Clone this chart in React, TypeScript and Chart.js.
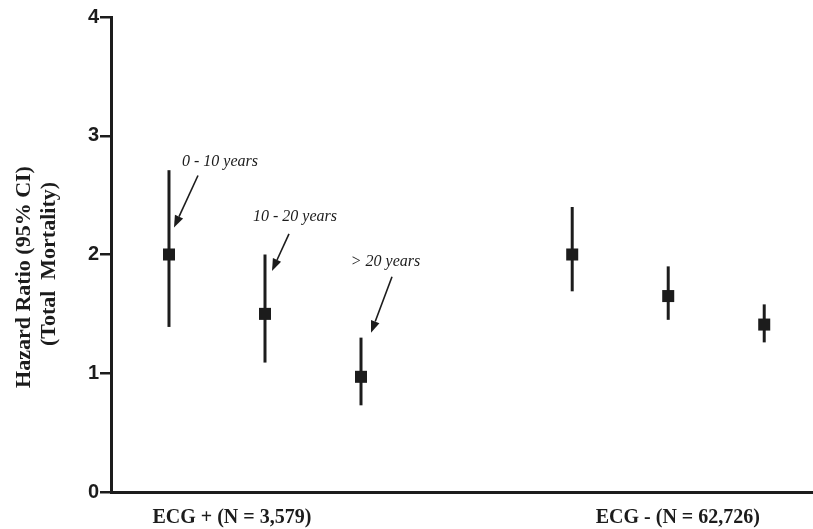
import React, { useEffect, useRef } from "react";
import { Chart, registerables } from "chart.js";

Chart.register(...registerables);

// ---- data ----
const groupLabels = ["ECG + (N = 3,579)", "ECG - (N = 62,726)"];
const xPositions = [1, 2, 3, 5.2, 6.2, 7.2];
const hazardRatio = [2.0, 1.5, 0.97, 2.0, 1.65, 1.41];
const ciLower = [1.39, 1.09, 0.73, 1.69, 1.45, 1.26];
const ciUpper = [2.71, 2.0, 1.3, 2.4, 1.9, 1.58];
const yTicks = [0, 1, 2, 3, 4];
const annotationLabels = ["0 - 10 years", "10 - 20 years", "> 20 years"];
const yTitleLines = ["Hazard Ratio (95% CI)", "(Total  Mortality)"];

// ---- style ----
const INK = "#1c1c1c";
const groupTickPositions = [1.655, 6.3];
const annotationOffsets = [
  { text: [51, -93], tail: [29, -79], tip: [5, -27] },
  { text: [30, -97], tail: [24, -80], tip: [7, -43] },
  { text: [24.5, -115], tail: [31, -100], tip: [10, -44] },
];

const errorBarPlugin = {
  id: "errorBars",
  beforeDatasetsDraw(chart: any) {
    const { ctx, scales } = chart;
    const xs = scales.x, ys = scales.y;
    ctx.save();
    ctx.strokeStyle = INK;
    ctx.lineWidth = 3;
    ctx.lineCap = "butt";
    for (let i = 0; i < xPositions.length; i++) {
      const x = xs.getPixelForValue(xPositions[i]);
      ctx.beginPath();
      ctx.moveTo(x, ys.getPixelForValue(ciUpper[i]));
      ctx.lineTo(x, ys.getPixelForValue(ciLower[i]));
      ctx.stroke();
    }
    ctx.restore();
  },
};

const annotationPlugin = {
  id: "annotations",
  afterDatasetsDraw(chart: any) {
    const { ctx, scales } = chart;
    const xs = scales.x, ys = scales.y;
    ctx.save();
    ctx.fillStyle = INK;
    ctx.strokeStyle = INK;
    ctx.font = "italic 16px 'Liberation Serif', 'Times New Roman', serif";
    ctx.textAlign = "center";
    ctx.textBaseline = "middle";
    annotationLabels.forEach((label, i) => {
      const px = xs.getPixelForValue(xPositions[i]);
      const py = ys.getPixelForValue(hazardRatio[i]);
      const o = annotationOffsets[i];
      ctx.fillText(label, px + o.text[0], py + o.text[1]);
      const x1 = px + o.tail[0], y1 = py + o.tail[1];
      const x2 = px + o.tip[0], y2 = py + o.tip[1];
      const ang = Math.atan2(y2 - y1, x2 - x1);
      const headLen = 12, headW = 4.5;
      const bx = x2 - headLen * Math.cos(ang), by = y2 - headLen * Math.sin(ang);
      ctx.lineWidth = 1.6;
      ctx.beginPath();
      ctx.moveTo(x1, y1);
      ctx.lineTo(bx, by);
      ctx.stroke();
      ctx.beginPath();
      ctx.moveTo(x2, y2);
      ctx.lineTo(bx + headW * Math.sin(ang), by - headW * Math.cos(ang));
      ctx.lineTo(bx - headW * Math.sin(ang), by + headW * Math.cos(ang));
      ctx.closePath();
      ctx.fill();
    });
    ctx.restore();
  },
};

const yTitlePlugin = {
  id: "yTitle",
  afterDraw(chart: any) {
    const { ctx } = chart;
    ctx.save();
    ctx.fillStyle = INK;
    ctx.font = "bold 22px 'Liberation Serif', 'Times New Roman', serif";
    ctx.textAlign = "center";
    ctx.textBaseline = "middle";
    const pos = [
      [24, 277],
      [49, 264],
    ];
    yTitleLines.forEach((line, i) => {
      ctx.save();
      ctx.translate(pos[i][0], pos[i][1]);
      ctx.rotate(-Math.PI / 2);
      ctx.fillText(line, 0, 0);
      ctx.restore();
    });
    ctx.restore();
  },
};

export default function App() {
  const ref = useRef<HTMLCanvasElement>(null);
  useEffect(() => {
    if (!ref.current) return;
    const chart = new Chart(ref.current, {
      type: "scatter",
      data: {
        datasets: [
          {
            data: xPositions.map((x, i) => ({ x, y: hazardRatio[i] })),
            pointStyle: "rect",
            pointRadius: 8.5,
            pointHoverRadius: 8.5,
            backgroundColor: INK,
            borderWidth: 0,
            clip: false,
          },
        ],
      },
      options: {
        animation: false,
        responsive: false,
        maintainAspectRatio: false,
        layout: { autoPadding: false, padding: { left: 0, right: 0, top: 17, bottom: 0 } },
        plugins: {
          legend: { display: false },
          tooltip: { enabled: false },
        },
        scales: {
          x: {
            type: "linear",
            min: 0.396,
            max: 7.708,
            afterBuildTicks(scale: any) {
              scale.ticks = groupTickPositions.map((v) => ({ value: v }));
            },
            afterFit(scale: any) {
              scale.height = 37;
              scale.paddingLeft = 0;
              scale.paddingRight = 0;
            },
            ticks: {
              autoSkip: false,
              maxRotation: 0,
              minRotation: 0,
              padding: 14,
              color: INK,
              font: { family: "'Liberation Serif', 'Times New Roman', serif", size: 20, weight: "bold" },
              callback: (v: any) => {
                const idx = groupTickPositions.indexOf(Number(v));
                return idx >= 0 ? groupLabels[idx] : "";
              },
            },
            grid: { display: false, drawTicks: false },
            border: { display: true, color: INK, width: 3 },
          },
          y: {
            min: 0,
            max: 4,
            afterBuildTicks(scale: any) {
              scale.ticks = yTicks.map((v) => ({ value: v }));
            },
            afterFit(scale: any) {
              scale.width = 111;
            },
            ticks: {
              padding: 1,
              color: INK,
              font: { family: "'Liberation Sans', Arial, sans-serif", size: 20, weight: "bold" },
            },
            grid: {
              display: true,
              drawOnChartArea: false,
              drawTicks: true,
              tickLength: 11,
              color: INK,
              lineWidth: 2.5,
            },
            border: { display: true, color: INK, width: 3 },
          },
        },
      },
      plugins: [errorBarPlugin, annotationPlugin, yTitlePlugin],
    });
    return () => chart.destroy();
  }, []);
  return (
    <div style={{ position: "fixed", left: 0, top: 0, width: 813, height: 529, background: "#fff" }}>
      <canvas ref={ref} width={813} height={529} style={{ width: 813, height: 529 }} />
    </div>
  );
}
